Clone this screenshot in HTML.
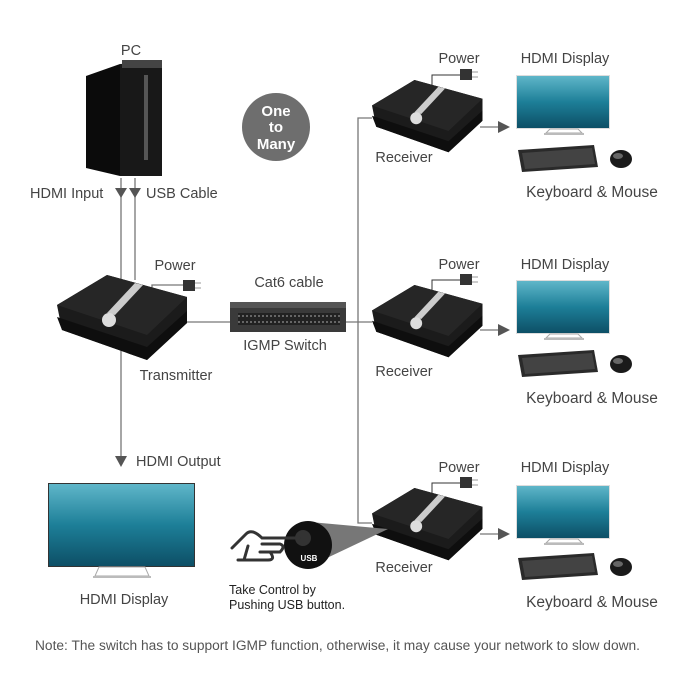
<!DOCTYPE html>
<html><head><meta charset="utf-8"><style>
html,body{margin:0;padding:0;background:#fff;}
svg{display:block;}
text{font-family:"Liberation Sans",sans-serif;fill:#444;font-size:14.5px;}
</style></head><body>
<svg width="700" height="700" viewBox="0 0 700 700" xmlns="http://www.w3.org/2000/svg">
<defs>
<linearGradient id="sea" x1="0" y1="0" x2="0" y2="1">
<stop offset="0" stop-color="#5fb6c9"/><stop offset="0.5" stop-color="#1d7f98"/><stop offset="1" stop-color="#0d4f66"/></linearGradient>
<g id="box">
<polygon points="0,30 50,0 130,22 130,48 90,85 5,55" fill="#1b1b1b"/>
<polygon points="5,55 90,85 130,48 130,36 90,72 0,42" fill="#0e0e0e"/>
<polygon points="50,0 130,22 90,60 0,30" fill="#262626"/>
<polygon points="78,8 86,10 58,40 50,38" fill="#ccc"/>
<circle cx="52" cy="45" r="7" fill="#ddd"/>
</g>
<g id="plug">
<rect x="0" y="0" width="12" height="11" fill="#333"/>
<line x1="12" y1="3" x2="18" y2="3" stroke="#999"/><line x1="12" y1="8" x2="18" y2="8" stroke="#999"/>
</g>
<g id="mon">
<rect x="0" y="0" width="94" height="54" fill="#ddd"/>
<rect x="1" y="1" width="92" height="52" fill="url(#sea)"/>
<path d="M30,58 L34,54 L62,54 L66,58 Z" fill="none" stroke="#aaa"/>
<line x1="28" y1="59" x2="68" y2="59" stroke="#bbb" stroke-width="2"/>
</g>
<g id="kbd">
<polygon points="0,5 76,0 80,22 4,27" fill="#2a2a2a"/>
<polygon points="4,8 74,3 77,19 7,24" fill="#555" opacity=".6"/>
<ellipse cx="103" cy="14" rx="11" ry="9" fill="#1a1a1a"/>
<ellipse cx="100" cy="11" rx="5" ry="3" fill="#666"/>
</g>
</defs>

<!-- PC -->
<text x="131" y="55" text-anchor="middle">PC</text>
<polygon points="86,76 120,64 120,176 86,168" fill="#0b0b0b"/>
<polygon points="120,64 162,62 162,176 120,176" fill="#181818"/>
<rect x="122" y="60" width="40" height="8" fill="#444"/>
<rect x="144" y="75" width="4" height="85" fill="#555"/>

<!-- lines -->
<g stroke="#777" stroke-width="1.3" fill="none">
<line x1="121" y1="178" x2="121" y2="457"/>
<line x1="135" y1="178" x2="135" y2="280"/>
<line x1="187" y1="322" x2="232" y2="322"/>
<line x1="345" y1="322" x2="372" y2="322"/>
<polyline points="372,118 358,118 358,523 372,523"/>
<line x1="480" y1="127" x2="500" y2="127"/>
<line x1="480" y1="330" x2="500" y2="330"/>
<line x1="480" y1="534" x2="500" y2="534"/>
<polyline points="152,290 152,285 183,285"/>
</g>
<g fill="#555">
<polygon points="115,188 127,188 121,198"/>
<polygon points="129,188 141,188 135,198"/>
<polygon points="115,456 127,456 121,467"/>
<polygon points="498,121 498,133 510,127"/>
<polygon points="498,324 498,336 510,330"/>
<polygon points="498,528 498,540 510,534"/>
</g>
<text x="30" y="198">HDMI Input</text>
<text x="146" y="198">USB Cable</text>

<!-- one to many -->
<circle cx="276" cy="127" r="34" fill="#6e6e6e"/>
<text x="276" y="116" text-anchor="middle" style="font-weight:bold;fill:#fff;font-size:15px">One</text>
<text x="276" y="132" text-anchor="middle" style="font-weight:bold;fill:#fff;font-size:15px">to</text>
<text x="276" y="149" text-anchor="middle" style="font-weight:bold;fill:#fff;font-size:15px">Many</text>

<!-- transmitter -->
<use href="#box" transform="translate(57,275)"/>
<use href="#plug" x="183" y="280"/>
<text x="175" y="270" text-anchor="middle">Power</text>
<text x="176" y="380" text-anchor="middle">Transmitter</text>

<!-- switch -->
<rect x="230" y="302" width="116" height="30" fill="#3a3a3a"/>
<rect x="230" y="302" width="116" height="6" fill="#555"/>
<rect x="238" y="313" width="102" height="12" fill="#222"/>
<line x1="238" y1="316" x2="340" y2="316" stroke="#aaa" stroke-dasharray="2 2"/>
<line x1="238" y1="322" x2="340" y2="322" stroke="#aaa" stroke-dasharray="2 2"/>
<text x="289" y="287" text-anchor="middle">Cat6 cable</text>
<text x="285" y="350" text-anchor="middle">IGMP Switch</text>

<!-- receivers -->
<g>
<polyline points="432,92 432,75 460,75" fill="none" stroke="#333"/>
<use href="#box" transform="translate(372,80) scale(0.85)"/>
<use href="#plug" x="460" y="69"/>
<text x="459" y="63" text-anchor="middle">Power</text>
<text x="565" y="63" text-anchor="middle">HDMI Display</text>
<text x="404" y="162" text-anchor="middle">Receiver</text>
<use href="#mon" x="516" y="75"/>
<use href="#kbd" x="518" y="145"/>
<text x="592" y="197" text-anchor="middle" style="font-size:15.5px">Keyboard &amp; Mouse</text>
</g>
<g transform="translate(0,205)">
<polyline points="432,92 432,75 460,75" fill="none" stroke="#333"/>
<use href="#box" transform="translate(372,80) scale(0.85)"/>
<use href="#plug" x="460" y="69"/>
<text x="459" y="64" text-anchor="middle">Power</text>
<text x="565" y="64" text-anchor="middle">HDMI Display</text>
<text x="404" y="171" text-anchor="middle">Receiver</text>
<use href="#mon" x="516" y="75"/>
<use href="#kbd" x="518" y="145"/>
<text x="592" y="198" text-anchor="middle" style="font-size:15.5px">Keyboard &amp; Mouse</text>
</g>
<g transform="translate(0,408)">
<polyline points="432,92 432,75 460,75" fill="none" stroke="#333"/>
<use href="#box" transform="translate(372,80) scale(0.85)"/>
<use href="#plug" x="460" y="69"/>
<text x="459" y="64" text-anchor="middle">Power</text>
<text x="565" y="64" text-anchor="middle">HDMI Display</text>
<text x="404" y="164" text-anchor="middle">Receiver</text>
<use href="#mon" x="516" y="77"/>
<use href="#kbd" x="518" y="145"/>
<text x="592" y="199" text-anchor="middle" style="font-size:15.5px">Keyboard &amp; Mouse</text>
</g>

<!-- left display -->
<rect x="48" y="483" width="147" height="84" fill="#333"/>
<rect x="49" y="484" width="145" height="82" fill="url(#sea)"/>
<path d="M95,576 L99,567 L145,567 L149,576 Z" fill="none" stroke="#aaa"/>
<line x1="93" y1="577" x2="151" y2="577" stroke="#bbb" stroke-width="2"/>
<text x="124" y="604" text-anchor="middle">HDMI Display</text>
<text x="136" y="466">HDMI Output</text>

<!-- USB button -->
<polygon points="310,522 388,529 310,566" fill="#777"/>
<circle cx="308" cy="545" r="24" fill="#111"/>
<circle cx="303" cy="538" r="8" fill="#333"/>
<text x="309" y="561" text-anchor="middle" style="fill:#fff;font-size:8px;font-weight:bold">USB</text>
<path d="M299,538 L262,538 Q252,528 246,534 L232,548 M248,546 L244,560 M238,560 L268,560 Q276,560 270,552 L260,552 M268,552 L280,552 Q286,546 280,544 L262,544" fill="none" stroke="#333" stroke-width="3" stroke-linecap="round"/>
<text x="229" y="594" style="font-size:12.5px;fill:#222">Take Control by</text>
<text x="229" y="609" style="font-size:12.5px;fill:#222">Pushing USB button.</text>

<text x="35" y="650" textLength="605" lengthAdjust="spacingAndGlyphs" style="font-size:13.5px;fill:#555">Note: The switch has to support IGMP function, otherwise, it may cause your network to slow down.</text>
</svg>
</body></html>
